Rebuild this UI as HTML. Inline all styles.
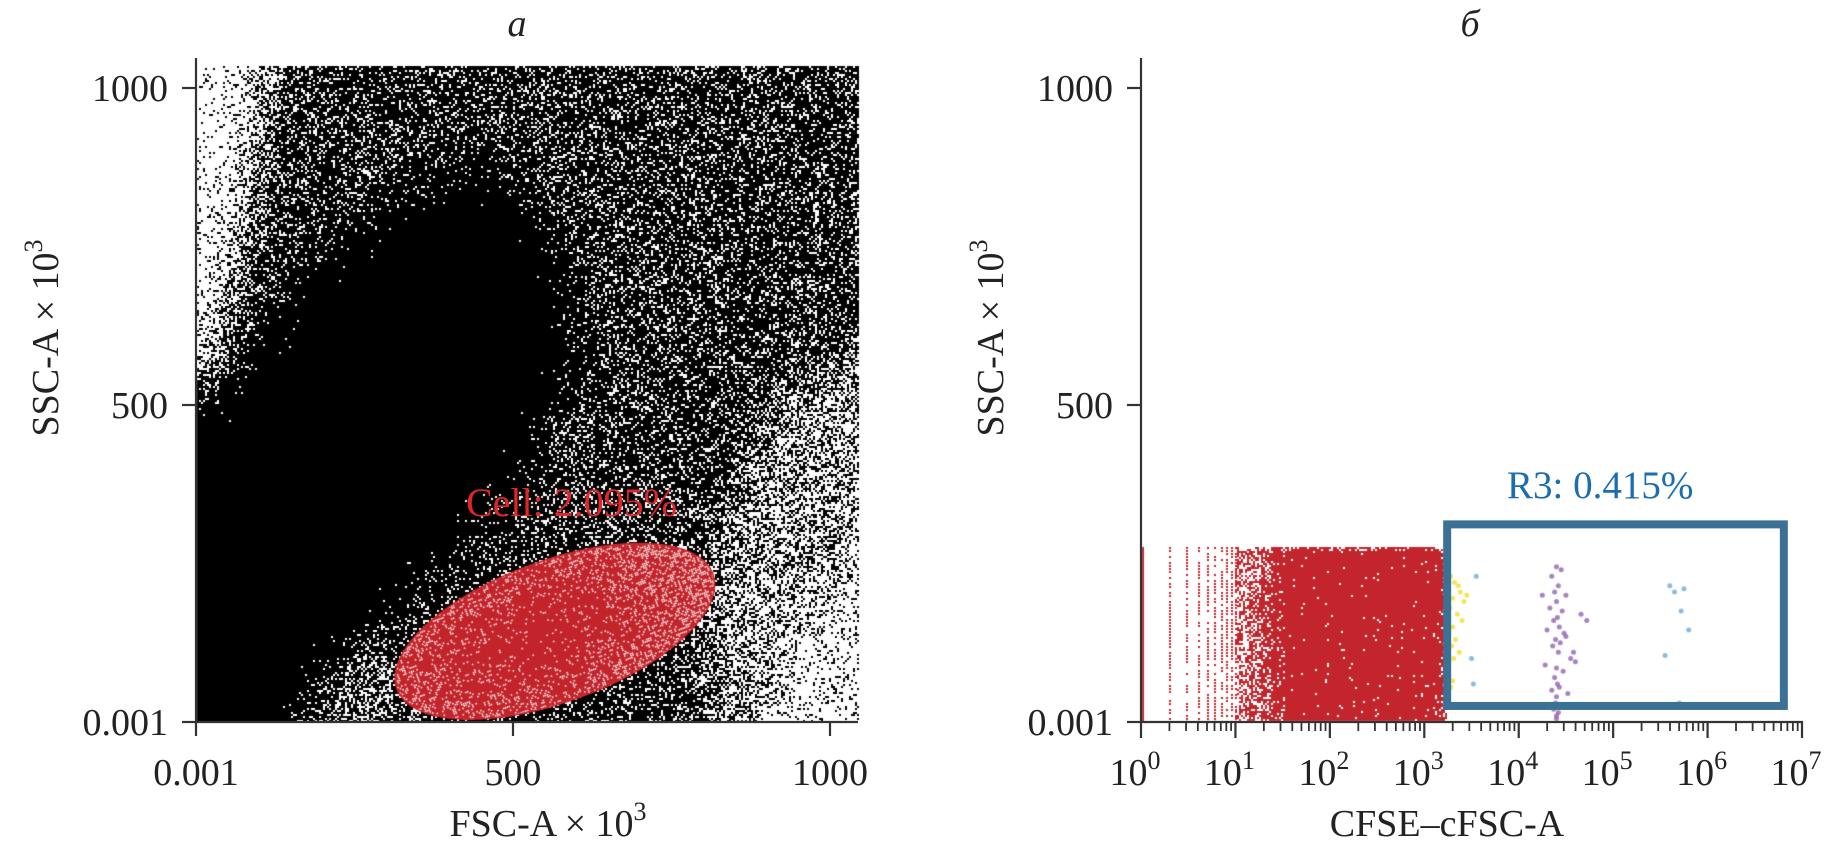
<!DOCTYPE html>
<html><head><meta charset="utf-8">
<style>
html,body{margin:0;padding:0;background:#fff;}
#wrap{position:relative;width:1830px;height:848px;overflow:hidden;background:#fff;}
canvas,svg{position:absolute;left:0;top:0;}
text{font-family:"Liberation Serif",serif;fill:#222;}
</style></head>
<body>
<div id="wrap">
<canvas id="cv" width="1830" height="848"></canvas>
<svg id="sv" width="1830" height="848"></svg>
</div>
<script>
// ---- data ----
const leftXTicks = [0.001, 500, 1000];
const leftXLabels = ["0.001", "500", "1000"];
const leftYTicks = [0.001, 500, 1000];
const leftYLabels = ["0.001", "500", "1000"];
const rightXExps = [0,1,2,3,4,5,6,7];
const cellGate = {cx: 566, cy: 143, rx: 264, ry: 110, angle: -20, label: "Cell: 2.095%"};
const r3Gate = {x0: 3.2, x1: 6.85, y0: 19, y1: 318, label: "R3: 0.415%"};
const redTop = 276;
const redDenseFrom = 1.55;
const redDenseTo = 3.2;
const yellowX = [3.28,3.32,3.25,3.38,3.3,3.42,3.27,3.35,3.4,3.3,3.26,3.33,3.45,3.29,3.37,3.31,3.24,3.36,3.3,3.28];
const yellowY = [230,220,210,205,195,190,180,170,160,150,140,130,200,120,110,100,175,215,65,55];
const purpleX = [4.4,4.45,4.35,4.42,4.38,4.5,4.4,4.33,4.46,4.41,4.37,4.43,4.3,4.48,4.39,4.44,4.36,4.42,4.55,4.6,4.28,4.4,4.47,4.38,4.41,4.43,4.35,4.52,4.4,4.39,4.45,4.37,4.42,4.4,4.66,4.72,4.5,4.58,4.25,4.4];
const purpleY = [245,240,230,215,205,200,190,180,175,165,160,150,145,140,130,125,120,110,100,95,90,85,80,70,60,55,50,45,40,30,25,20,15,10,170,160,135,110,200,5];
const blueX = [3.55,3.5,3.52,5.6,5.65,5.75,5.8,5.72,5.55,5.7];
const blueY = [230,100,60,215,205,210,145,175,105,30];

// ---- scales ----
const L = {x0:196, x1:858, yb:722, yt:66};
const lx = v => 196 + v*(317/500);
const ly = v => 722 - v*(317/500);
const rx = d => 1141 + d*94.43;
const ry = v => 722 - v*(317/500);

const NS = "http://www.w3.org/2000/svg";
const sv = document.getElementById('sv');
function mk(tag, attrs, parent){const e=document.createElementNS(NS,tag);for(const k in attrs)e.setAttribute(k,attrs[k]);(parent||sv).appendChild(e);return e;}

const cv = document.getElementById('cv');
const ctx = cv.getContext('2d');
function hash(x,y){let h=(x*374761393+y*668265263)^0x5bd1e995;h=(h^(h>>>13))*1274126177;h=h^(h>>>16);return ((h>>>0)%10000)/10000;}

const dc = document.createElement('canvas'); dc.width=1830; dc.height=848;
const d = dc.getContext('2d');
d.fillStyle='#fff'; d.fillRect(0,0,1830,848);
d.filter='blur(20px)';
d.save(); d.beginPath(); d.rect(L.x0,L.yt,L.x1-L.x0,L.yb-L.yt); d.clip();
d.fillStyle='rgb(55,55,55)'; d.fillRect(L.x0-60,L.yt-60,L.x1-L.x0+120,L.yb-L.yt+120);
function poly(pts,col){d.fillStyle=col;d.beginPath();pts.forEach((p,i)=>i?d.lineTo(p[0],p[1]):d.moveTo(p[0],p[1]));d.closePath();d.fill();}
poly([[150,770],[292,770],[385,630],[490,525],[548,443],[584,350],[560,233],[490,152],[385,198],[303,268],[233,350],[150,420]],'rgb(0,0,0)');
poly([[150,20],[275,20],[240,233],[210,385],[150,385]],'rgb(235,235,235)');
poly([[900,327],[900,770],[712,770],[700,580],[740,500],[770,400]],'rgb(150,150,150)');
poly([[900,560],[900,770],[747,770],[805,607]],'rgb(225,225,225)');
poly([[292,770],[397,770],[403,653],[350,653]],'rgb(120,120,120)');
d.restore();
const img = d.getImageData(0,0,1830,848).data;
ctx.fillStyle='#000';
for(let y=L.yt;y<L.yb;y+=2){for(let x=L.x0+1;x<L.x1;x+=2){
  const g=img[(y*1830+x)*4]/255; const dens=1-g;
  if(hash(x,y)<dens) ctx.fillRect(x,y,2,2);
}}
ctx.save();
ctx.translate(lx(cellGate.cx), ly(cellGate.cy));
ctx.rotate(cellGate.angle*Math.PI/180);
const ex=cellGate.rx*317/500, ey=cellGate.ry*317/500;
ctx.beginPath(); ctx.ellipse(0,0,ex,ey,0,0,Math.PI*2); ctx.fillStyle='#c3242b'; ctx.fill();
ctx.lineWidth=3; ctx.strokeStyle='#c8262c'; ctx.stroke();
ctx.clip();
ctx.fillStyle='#f7e4e4';
for(let y=-ey;y<ey;y+=2){for(let x=-ex;x<ex;x+=2){
  const r=(x*x)/(ex*ex)+(y*y)/(ey*ey);
  const p=0.06+0.25*r + Math.max(0,x/ex)*0.25;
  if(hash(Math.round(x+500),Math.round(y+500))<p) ctx.fillRect(x,y,1.6,1.6);
}}
ctx.restore();
ctx.fillStyle='#fff'; ctx.fillRect(L.x0,L.yb,700,10);

const rTopY = ry(redTop);
ctx.fillStyle='#c3242b';
ctx.fillRect(rx(0)+1,rTopY,2,L.yb-rTopY);
for(let k=2;k<=10;k++){
  const xx=Math.round(rx(Math.log10(k)));
  for(let y=rTopY;y<L.yb;y+=3){ if(hash(xx,y)<0.7) ctx.fillRect(xx,y,2,2);}
}
for(let x=Math.round(rx(1));x<rx(redDenseTo+0.05);x+=2){
  const dec=(x-1141)/94.43;
  let p;
  if(dec<redDenseFrom) p=0.35+0.6*(dec-1)/(redDenseFrom-1);
  else if(dec<redDenseTo-0.05) p=0.97;
  else p=0.97-(dec-(redDenseTo-0.05))*8;
  const colBoost = (Math.floor(x/4)%3===0)?0.15:0;
  for(let y=rTopY;y<L.yb-1;y+=2){
    const edge = (y-rTopY<4)?0.3:0;
    if(hash(x,y)<p+colBoost-edge) ctx.fillRect(x,y,2,2);
  }
}
function dots(xs,ys,col){ctx.fillStyle=col;xs.forEach((v,i)=>{ctx.beginPath();ctx.arc(rx(v),ry(ys[i]),2.5,0,Math.PI*2);ctx.fill();});}
dots(yellowX,yellowY,'rgba(245,225,60,0.85)');
dots(purpleX,purpleY,'rgba(140,90,170,0.75)');
dots(blueX,blueY,'rgba(110,170,220,0.8)');

const ax = {stroke:'#333','stroke-width':2.2};
let e;
e=mk('line',Object.assign({x1:196,y1:58,x2:196,y2:723},ax));  
e=mk('line',Object.assign({x1:195,y1:722,x2:858,y2:722},ax));  
leftXTicks.forEach((v,i)=>{
  const x=lx(v);
  e=mk('line',Object.assign({x1:x,y1:722,x2:x,y2:736},ax));  
  e=mk('text',{x:x,y:785,'font-size':38,'text-anchor':'middle'}); e.textContent=leftXLabels[i];
   
});
leftYTicks.forEach((v,i)=>{
  const y=ly(v);
  e=mk('line',Object.assign({x1:182,y1:y,x2:196,y2:y},ax));  
  e=mk('text',{x:168,y:y+13,'font-size':38,'text-anchor':'end'}); e.textContent=leftYLabels[i];
   
});
e=mk('line',Object.assign({x1:1141,y1:58,x2:1141,y2:723},ax));  
e=mk('line',Object.assign({x1:1140,y1:722,x2:1803,y2:722},ax));  
leftYTicks.forEach((v,i)=>{
  const y=ry(v);
  e=mk('line',Object.assign({x1:1127,y1:y,x2:1141,y2:y},ax));  
  e=mk('text',{x:1113,y:y+13,'font-size':38,'text-anchor':'end'}); e.textContent=leftYLabels[i];
   
});
rightXExps.forEach(n=>{
  const x=rx(n);
  e=mk('line',Object.assign({x1:x,y1:722,x2:x,y2:738},ax));  
  if(n<7){for(let k=2;k<=9;k++){const xm=rx(n+Math.log10(k));
    e=mk('line',{x1:xm,y1:722,x2:xm,y2:731,stroke:'#333','stroke-width':1.8});  }}
  e=mk('text',{x:x-6,y:785,'font-size':38,'text-anchor':'middle'});
   
  e.appendChild(document.createTextNode('10'));
  const t=mk('tspan',{dy:-16,'font-size':26},e); t.textContent=String(n);
});
const gx0=rx(r3Gate.x0), gx1=rx(r3Gate.x1), gy0=ry(r3Gate.y1), gy1=ry(r3Gate.y0);
e=mk('rect',{x:gx0+4,y:gy0+4,width:gx1-gx0-8,height:gy1-gy0-8,fill:'none',stroke:'#3b7194','stroke-width':8});
 
e=mk('text',{x:1507,y:498,'font-size':39,style:'fill:#1b6cb0'}); e.textContent=r3Gate.label;
 
e=mk('text',{x:466,y:516,'font-size':40,style:'fill:#e0262c'}); e.textContent=cellGate.label;
 
e=mk('text',{x:517,y:36,'font-size':38,'font-style':'italic','text-anchor':'middle'}); e.textContent='а';
 
e=mk('text',{x:1470,y:36,'font-size':38,'font-style':'italic','text-anchor':'middle'}); e.textContent='б';
 
function axTitle(x,y,txt,sup,rot,name){
  const t=mk('text',{x:x,y:y,'font-size':38,'text-anchor':'middle',transform:rot?`rotate(-90 ${x} ${y})`:''});
   
  t.appendChild(document.createTextNode(txt));
  if(sup){const s=mk('tspan',{dy:-16,'font-size':26},t); s.textContent=sup;}
  return t;
}
axTitle(548,836,'FSC-A × 10','3',false,'left-x-axis-title');
axTitle(1447,836,'CFSE–cFSC-A','',false,'right-x-axis-title');
axTitle(58,338,'SSC-A × 10','3',true,'left-y-axis-title');
axTitle(1003,338,'SSC-A × 10','3',true,'right-y-axis-title');
</script>
</body></html>
